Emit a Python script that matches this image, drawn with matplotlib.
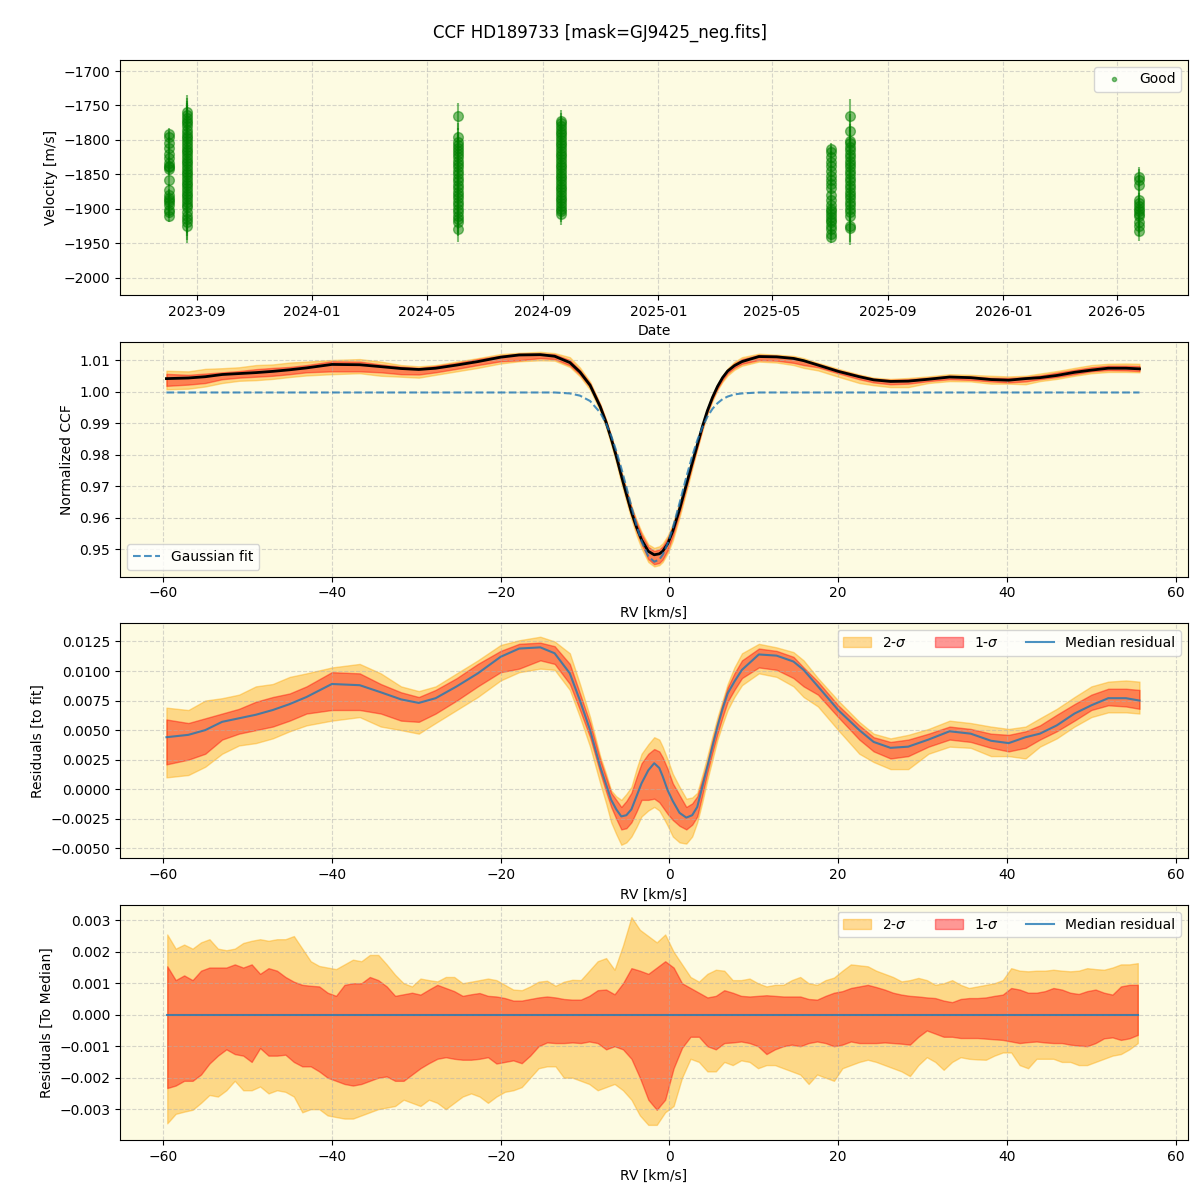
import numpy as np
import matplotlib
matplotlib.use("Agg")
import matplotlib.pyplot as plt
import matplotlib.dates as mdates
from matplotlib.lines import Line2D


# --- panel 1: RV time series (one cluster of points per epoch) ---
obs_dates = ['2023-08-02', '2023-08-21', '2024-06-03', '2024-09-20',
             '2025-07-03', '2025-07-23', '2026-05-25']
obs_err = [9, 25, 20, 15, 9, 24, 15]
obs_vel = [
    [-1792, -1796, -1805, -1812, -1820, -1827, -1834, -1838, -1840, -1842,
     -1858, -1873, -1880, -1884, -1887, -1890, -1895, -1902, -1905, -1910],
    [-1760, -1764, -1768, -1772, -1776, -1780, -1785, -1790, -1794, -1798,
     -1802, -1806, -1810, -1814, -1818, -1822, -1826, -1830, -1834, -1838,
     -1842, -1846, -1850, -1854, -1858, -1862, -1866, -1870, -1874, -1878,
     -1882, -1886, -1890, -1894, -1898, -1905, -1910, -1915, -1920, -1925],
    [-1766, -1796, -1803, -1808, -1812, -1816, -1820, -1825, -1830, -1835,
     -1840, -1845, -1850, -1855, -1860, -1865, -1870, -1875, -1880, -1885,
     -1890, -1895, -1900, -1905, -1910, -1915, -1920, -1929],
    [-1772, -1776, -1780, -1784, -1788, -1792, -1796, -1800, -1804, -1808,
     -1812, -1816, -1820, -1824, -1828, -1832, -1836, -1840, -1844, -1848,
     -1852, -1856, -1860, -1864, -1868, -1872, -1876, -1880, -1884, -1888,
     -1892, -1896, -1900, -1904, -1908],
    [-1813, -1818, -1825, -1832, -1838, -1845, -1852, -1858, -1864, -1870,
     -1880, -1888, -1895, -1900, -1904, -1908, -1912, -1916, -1920, -1925,
     -1930, -1936, -1941],
    [-1765, -1787, -1801, -1805, -1810, -1815, -1820, -1825, -1830, -1835,
     -1840, -1845, -1850, -1855, -1860, -1865, -1870, -1875, -1880, -1885,
     -1890, -1895, -1900, -1905, -1910, -1925, -1928],
    [-1854, -1858, -1866, -1888, -1892, -1896, -1900, -1904, -1908, -1910,
     -1920, -1925, -1932],
]

# --- panels 2/3: CCF residuals to the gaussian fit ---
# rows: wings (-59.6..-9.4), line core (-8.2..8.6), red wing (10.6..55.7)
rv_k = [-59.6, -57.0, -55.0, -53.0, -51.0, -49.0, -47.0, -45.0, -43.0, -40.0,
        -36.7, -34.2, -31.8, -29.7, -27.7, -25.2, -22.7, -20.0, -17.8, -15.3,
        -13.6, -11.8, -10.6, -9.4,
        -8.2, -7.5, -6.9, -6.3, -5.7, -5.1, -4.5, -3.9, -3.3, -2.5, -1.8, -1.2, -0.8,
        -0.2, 0.4, 1.2, 2.0, 2.7, 3.3, 3.9, 4.5, 5.1, 5.7, 6.3, 6.9, 7.7, 8.6,
        10.6, 12.7, 14.7, 15.9, 17.6, 20.0, 22.5, 24.2, 26.2, 28.3, 30.7, 33.2,
        35.7, 38.1, 40.2, 42.2, 43.9, 45.9, 48.0, 50.0, 52.0, 54.1, 55.7]
gauss_fit = [0.9997] * 21 + [0.9994, 0.9987, 0.9970] + [
    0.9933, 0.9898, 0.9860, 0.9812, 0.9757, 0.9697, 0.9635, 0.9576, 0.9525, 0.9477,
    0.9460, 0.9467, 0.9482, 0.9518, 0.9567, 0.9646, 0.9728, 0.9795, 0.9845, 0.9886,
    0.9920, 0.9945, 0.9963, 0.9976, 0.9984, 0.9991, 0.9994] + [0.9997] * 23
res_med = [0.0044, 0.0046, 0.0050, 0.0057, 0.0060, 0.0063, 0.0067, 0.0072, 0.0078, 0.0089,
           0.0088, 0.0082, 0.0076, 0.0073, 0.0077, 0.0087, 0.0098, 0.0112, 0.0119, 0.0120,
           0.0115, 0.0098, 0.0075, 0.0050,
           0.0019, 0.0004, -0.0009, -0.0017, -0.0023, -0.0022, -0.0017, -0.0006, 0.0005, 0.0016,
           0.0022, 0.0018, 0.0011, -0.0001, -0.0010, -0.0020, -0.0024, -0.0022, -0.0015, 0.0002,
           0.0019, 0.0036, 0.0053, 0.0068, 0.0081, 0.0091, 0.0101,
           0.0114, 0.0113, 0.0108, 0.0101, 0.0087, 0.0067, 0.0050, 0.0040, 0.0035, 0.0036,
           0.0042, 0.0049, 0.0047, 0.0041, 0.0039, 0.0044, 0.0047, 0.0054, 0.0064, 0.0071,
           0.0077, 0.0077, 0.0075]
res_hi2 = [0.0069, 0.0067, 0.0075, 0.0077, 0.0080, 0.0087, 0.0089, 0.0095, 0.0098, 0.0103,
           0.0106, 0.0098, 0.0087, 0.0083, 0.0087, 0.0098, 0.0109, 0.0122, 0.0126, 0.0129,
           0.0125, 0.0115, 0.0089, 0.0061,
           0.0028, 0.0013, -0.0001, -0.0006, -0.0009, -0.0004, 0.0002, 0.0017, 0.0030, 0.0038,
           0.0044, 0.0042, 0.0036, 0.0025, 0.0013, 0.0002, -0.0008, -0.0007, -0.0003, 0.0012,
           0.0028, 0.0045, 0.0061, 0.0075, 0.0089, 0.0103, 0.0115,
           0.0123, 0.0120, 0.0116, 0.0109, 0.0094, 0.0075, 0.0057, 0.0047, 0.0043, 0.0046,
           0.0051, 0.0058, 0.0056, 0.0053, 0.0051, 0.0053, 0.0060, 0.0068, 0.0078, 0.0087,
           0.0091, 0.0092, 0.0091]
res_hi1 = [0.0059, 0.0056, 0.0060, 0.0064, 0.0068, 0.0074, 0.0078, 0.0081, 0.0087, 0.0099,
           0.0098, 0.0089, 0.0082, 0.0078, 0.0084, 0.0094, 0.0106, 0.0117, 0.0123, 0.0124,
           0.0121, 0.0106, 0.0081, 0.0056,
           0.0025, 0.0010, -0.0003, -0.0009, -0.0015, -0.0010, -0.0003, 0.0010, 0.0022, 0.0030,
           0.0034, 0.0032, 0.0027, 0.0017, 0.0005, -0.0005, -0.0015, -0.0012, -0.0006, 0.0008,
           0.0023, 0.0041, 0.0057, 0.0072, 0.0086, 0.0098, 0.0109,
           0.0119, 0.0117, 0.0112, 0.0103, 0.0091, 0.0071, 0.0054, 0.0044, 0.0040, 0.0042,
           0.0047, 0.0053, 0.0051, 0.0047, 0.0046, 0.0049, 0.0054, 0.0063, 0.0072, 0.0080,
           0.0085, 0.0085, 0.0084]
res_lo1 = [0.0021, 0.0025, 0.0030, 0.0042, 0.0047, 0.0050, 0.0053, 0.0058, 0.0064, 0.0067,
           0.0067, 0.0064, 0.0058, 0.0057, 0.0064, 0.0075, 0.0087, 0.0099, 0.0102, 0.0109,
           0.0106, 0.0089, 0.0067, 0.0044,
           0.0014, -0.0002, -0.0015, -0.0025, -0.0034, -0.0033, -0.0028, -0.0019, -0.0009, -0.0009,
           -0.0008, -0.0011, -0.0015, -0.0021, -0.0026, -0.0031, -0.0034, -0.0030, -0.0023, -0.0005,
           0.0014, 0.0031, 0.0047, 0.0061, 0.0074, 0.0084, 0.0094,
           0.0103, 0.0101, 0.0094, 0.0087, 0.0080, 0.0061, 0.0042, 0.0032, 0.0026, 0.0028,
           0.0036, 0.0042, 0.0040, 0.0035, 0.0032, 0.0035, 0.0042, 0.0049, 0.0058, 0.0067,
           0.0071, 0.0070, 0.0068]
res_lo2 = [0.0010, 0.0012, 0.0019, 0.0030, 0.0037, 0.0039, 0.0043, 0.0049, 0.0054, 0.0058,
           0.0061, 0.0053, 0.0050, 0.0047, 0.0056, 0.0067, 0.0078, 0.0092, 0.0099, 0.0102,
           0.0101, 0.0084, 0.0061, 0.0036,
           0.0005, -0.0012, -0.0028, -0.0038, -0.0047, -0.0045, -0.0040, -0.0032, -0.0023, -0.0018,
           -0.0015, -0.0018, -0.0023, -0.0031, -0.0040, -0.0045, -0.0046, -0.0040, -0.0028, -0.0011,
           0.0008, 0.0025, 0.0042, 0.0055, 0.0067, 0.0078, 0.0088,
           0.0098, 0.0095, 0.0087, 0.0078, 0.0070, 0.0050, 0.0030, 0.0023, 0.0017, 0.0017,
           0.0030, 0.0036, 0.0035, 0.0028, 0.0028, 0.0026, 0.0036, 0.0043, 0.0053, 0.0061,
           0.0065, 0.0065, 0.0064]

# --- panel 4: spread around the median CCF, 1 km/s sampling ---
rv_p4 = np.arange(-59.5, 55.6, 1.0)
med_hi2 = [0.00255, 0.0021, 0.00223, 0.0021, 0.0023, 0.0024, 0.0021, 0.00205, 0.0021, 0.00228,
           0.00235, 0.0024, 0.00235, 0.0024, 0.0024, 0.0025, 0.0021, 0.0017, 0.00155, 0.0015,
           0.00145, 0.0016, 0.00175, 0.0017, 0.0019, 0.0019, 0.0016, 0.00127, 0.0010, 0.0009,
           0.00115, 0.0011, 0.00106, 0.0012, 0.0012, 0.0010, 0.00105, 0.0011, 0.00115, 0.0011,
           0.00095, 0.0008, 0.00078, 0.0009, 0.00105, 0.00108, 0.00092, 0.00105, 0.00111, 0.0011,
           0.0014, 0.0017, 0.0018, 0.00143, 0.0022, 0.0031, 0.0027, 0.0025, 0.0023, 0.00255,
           0.0020, 0.0016, 0.0012, 0.00105, 0.0013, 0.00143, 0.0014, 0.0011, 0.0011, 0.00115,
           0.0010, 0.0009, 0.00095, 0.00095, 0.0011, 0.0012, 0.0010, 0.00095, 0.0011, 0.00118,
           0.0014, 0.0016, 0.00157, 0.00154, 0.0014, 0.0013, 0.0012, 0.00106, 0.0011, 0.00117,
           0.0011, 0.00095, 0.0010, 0.0011, 0.00095, 0.00085, 0.0009, 0.00095, 0.0010, 0.0011,
           0.00148, 0.0014, 0.00138, 0.0014, 0.0014, 0.00143, 0.0014, 0.00138, 0.0014, 0.00148,
           0.00145, 0.00143, 0.0015, 0.0016, 0.0016, 0.00164]
med_hi1 = [0.00154, 0.0011, 0.00125, 0.0011, 0.0014, 0.0015, 0.0015, 0.0015, 0.0016, 0.0015,
           0.0016, 0.0013, 0.00148, 0.0014, 0.0012, 0.00105, 0.00095, 0.00092, 0.0009, 0.0007,
           0.0006, 0.00095, 0.0010, 0.0010, 0.0012, 0.0011, 0.0009, 0.0006, 0.00065, 0.0007,
           0.00064, 0.0008, 0.00095, 0.00085, 0.00075, 0.0006, 0.00065, 0.00069, 0.0006, 0.00058,
           0.00053, 0.00045, 0.00045, 0.0005, 0.00055, 0.00058, 0.00055, 0.0005, 0.00048, 0.00048,
           0.0006, 0.00078, 0.0008, 0.00065, 0.0010, 0.00148, 0.0014, 0.0013, 0.0015, 0.0017,
           0.0015, 0.0010, 0.00085, 0.0007, 0.00055, 0.0006, 0.00078, 0.0007, 0.0006, 0.00058,
           0.0006, 0.00062, 0.0006, 0.00058, 0.00058, 0.00058, 0.0005, 0.00048, 0.0006, 0.0007,
           0.00075, 0.00085, 0.0009, 0.00095, 0.00088, 0.0008, 0.0007, 0.00064, 0.0006, 0.00058,
           0.00055, 0.00053, 0.00045, 0.0004, 0.0005, 0.00053, 0.00053, 0.00055, 0.0006, 0.00064,
           0.00085, 0.0008, 0.0007, 0.0007, 0.00075, 0.00085, 0.0008, 0.0007, 0.00066, 0.00075,
           0.0008, 0.0007, 0.00064, 0.0009, 0.00095, 0.00095]
med_lo1 = [-0.00233, -0.00225, -0.0021, -0.0021, -0.0019, -0.00155, -0.0013, -0.0011, -0.00125, -0.0013,
           -0.0015, -0.00106, -0.0013, -0.0013, -0.00127, -0.0015, -0.00164, -0.00164, -0.0018, -0.0020,
           -0.0021, -0.0022, -0.00225, -0.0022, -0.0021, -0.0020, -0.00196, -0.0021, -0.0021, -0.0019,
           -0.0017, -0.00154, -0.0014, -0.00135, -0.0014, -0.00143, -0.00143, -0.0014, -0.00135, -0.00155,
           -0.0015, -0.00145, -0.00154, -0.0013, -0.0010, -0.00088, -0.0009, -0.0009, -0.00088, -0.0009,
           -0.00085, -0.0009, -0.0011, -0.0010, -0.0011, -0.0014, -0.0020, -0.0027, -0.00302, -0.0027,
           -0.0017, -0.00105, -0.0007, -0.0007, -0.0010, -0.0011, -0.0009, -0.00088, -0.00085, -0.0009,
           -0.0010, -0.00125, -0.0011, -0.0010, -0.00095, -0.0010, -0.0009, -0.00085, -0.0009, -0.0010,
           -0.00095, -0.00085, -0.0009, -0.0009, -0.0009, -0.00088, -0.0009, -0.00092, -0.00095, -0.0007,
           -0.0005, -0.0006, -0.0007, -0.0007, -0.00074, -0.00074, -0.00074, -0.00076, -0.00078, -0.0008,
           -0.00085, -0.0009, -0.00087, -0.00085, -0.00088, -0.0009, -0.0009, -0.00095, -0.00098, -0.0010,
           -0.0009, -0.00075, -0.00072, -0.0008, -0.00075, -0.00064]
med_lo2 = [-0.00345, -0.00315, -0.00308, -0.00302, -0.0028, -0.00255, -0.0026, -0.0024, -0.0021, -0.0024,
           -0.0024, -0.00228, -0.0025, -0.0024, -0.00245, -0.0026, -0.0031, -0.0030, -0.0030, -0.0032,
           -0.00325, -0.0033, -0.0033, -0.0032, -0.0031, -0.0030, -0.00295, -0.0029, -0.0027, -0.0028,
           -0.0029, -0.0027, -0.0028, -0.0030, -0.0028, -0.0026, -0.0025, -0.0026, -0.0028, -0.0026,
           -0.00245, -0.0024, -0.0023, -0.0020, -0.0017, -0.00164, -0.00164, -0.0020, -0.0020, -0.0021,
           -0.0022, -0.0024, -0.0023, -0.0022, -0.0024, -0.0027, -0.0032, -0.0035, -0.0035, -0.0031,
           -0.0029, -0.0020, -0.0014, -0.0015, -0.0018, -0.0018, -0.0015, -0.0016, -0.00145, -0.0015,
           -0.0017, -0.0016, -0.0016, -0.0017, -0.0018, -0.0019, -0.0022, -0.0019, -0.0020, -0.0021,
           -0.0017, -0.0016, -0.0015, -0.00143, -0.0015, -0.0016, -0.0017, -0.0018, -0.00195, -0.0016,
           -0.00135, -0.0015, -0.00175, -0.0015, -0.00135, -0.0014, -0.00142, -0.00143, -0.0013, -0.0012,
           -0.0012, -0.0016, -0.0017, -0.0014, -0.0014, -0.0014, -0.0015, -0.0015, -0.0016, -0.0016,
           -0.0015, -0.0014, -0.0013, -0.00125, -0.0011, -0.0009]

bg = '#fdfbe2'
rv_lim = (-65.1, 61.45)

fig, axes = plt.subplots(4, 1, figsize=(12, 12))
fig.subplots_adjust(left=0.1, right=0.99, top=0.95, bottom=0.05, hspace=0.2)
fig.suptitle('CCF HD189733 [mask=GJ9425_neg.fits]', fontsize=12)

# panel 1
ax = axes[0]
n_per = [len(v) for v in obs_vel]
t = np.repeat(np.array(obs_dates, dtype='datetime64[D]'), n_per)
v = np.concatenate(obs_vel)
e = np.repeat(obs_err, n_per)
ax.errorbar(t, v, yerr=e, fmt='o', color='green', alpha=0.5, ms=7, elinewidth=1.5)
good = Line2D([], [], marker='o', ls='none', color='green', alpha=0.5, ms=3, label='Good')
ax.legend(handles=[good], loc='upper right')
ax.xaxis.set_major_locator(mdates.MonthLocator(bymonth=[1, 5, 9]))
ax.xaxis.set_major_formatter(mdates.DateFormatter('%Y-%m'))
ax.set_ylim(-2025, -1684)
ax.set_xlabel('Date')
ax.set_ylabel('Velocity [m/s]')

# panel 2: CCF = gaussian fit + residuals
rv = np.array(rv_k)
g = np.array(gauss_fit)
ax = axes[1]
ax.fill_between(rv, g + np.array(res_lo2), g + np.array(res_hi2), color='orange', alpha=0.4)
ax.fill_between(rv, g + np.array(res_lo1), g + np.array(res_hi1), color='red', alpha=0.4)
ax.plot(rv, g + np.array(res_med), color='k', lw=2)
ax.plot(rv, g, '--', color='C0', alpha=0.8, lw=1.5, label='Gaussian fit')
ax.legend(loc='lower left')
ax.set_ylim(0.9413, 1.0158)
ax.set_xlabel('RV [km/s]')
ax.set_ylabel('Normalized CCF')

# panel 3
ax = axes[2]
ax.fill_between(rv, res_lo2, res_hi2, color='orange', alpha=0.4, label='2-$\\sigma$')
ax.fill_between(rv, res_lo1, res_hi1, color='red', alpha=0.4, label='1-$\\sigma$')
ax.plot(rv, res_med, color='C0', alpha=0.8, lw=1.5, label='Median residual')
ax.legend(loc='upper right', ncol=3)
ax.set_ylim(-0.00584, 0.01402)
ax.set_xlabel('RV [km/s]')
ax.set_ylabel('Residuals [to fit]')

# panel 4
ax = axes[3]
ax.fill_between(rv_p4, med_lo2, med_hi2, color='orange', alpha=0.4, label='2-$\\sigma$')
ax.fill_between(rv_p4, med_lo1, med_hi1, color='red', alpha=0.4, label='1-$\\sigma$')
ax.plot(rv_p4, np.zeros_like(rv_p4), color='C0', alpha=0.8, lw=1.5, label='Median residual')
ax.legend(loc='upper right', ncol=3)
ax.set_ylim(-0.00398, 0.00348)
ax.set_xlabel('RV [km/s]')
ax.set_ylabel('Residuals [To Median]')

for i, ax in enumerate(axes):
    ax.set_facecolor(bg)
    ax.grid(True, linestyle='--', alpha=0.5)
    if i > 0:
        ax.set_xlim(*rv_lim)

fig.savefig('out.png', dpi=100)
